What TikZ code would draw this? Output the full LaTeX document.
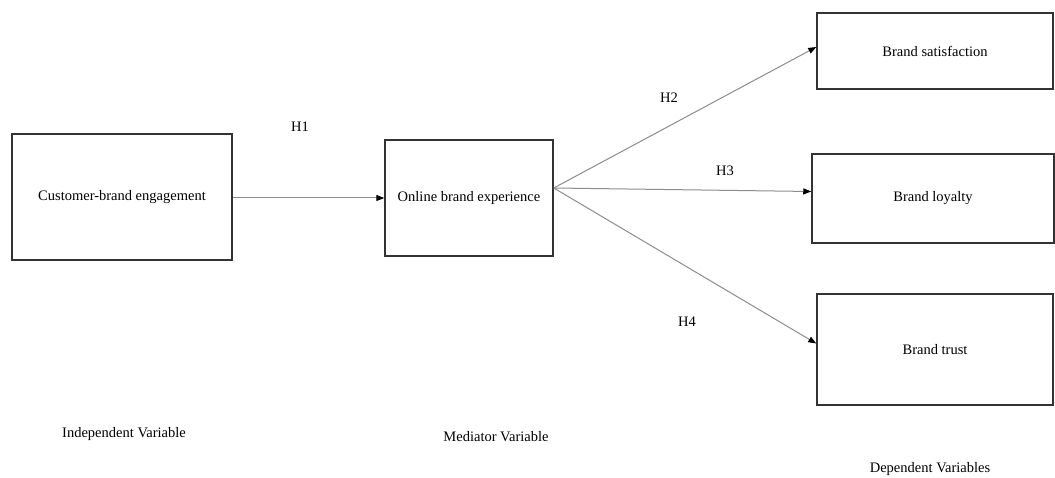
\documentclass[tikz,border=0pt]{standalone}
\usepackage{fontspec}
\setmainfont{Liberation Serif}
\usetikzlibrary{
  arrows.meta,
  positioning,
  calc
}

\begin{document}
\begin{tikzpicture}[
      x=1pt, y=-1pt,
      >={Triangle[length=8pt, width=6pt, color=black]},
      texto/.style={font=\fontsize{14.5}{17}\selectfont, inner sep=0pt},
      caixa/.style={draw=black!80, line width=1.5pt, inner sep=0pt, texto},
      seta/.style={->, line width=1pt, black!45}
  ]
      \useasboundingbox (0,0) rectangle (1055,478);

      % Variables
      \node[caixa, minimum width=220pt, minimum height=126pt] (cbe) at (122,197) {Customer-brand engagement};
      \node[caixa, minimum width=168pt, minimum height=116pt] (obe) at (469,198) {Online brand experience};
      \node[caixa, minimum width=236pt, minimum height=76pt] (sat) at (935,51) {Brand satisfaction};
      \node[caixa, minimum width=242pt, minimum height=89pt] (loy) at (933,198.5) {Brand loyalty};
      \node[caixa, minimum width=236pt, minimum height=111pt] (tru) at (935,349.5) {Brand trust};
      \coordinate (hub) at ([yshift=10pt]obe.east);

      % Hypotheses
      \draw[seta] (cbe.east |- 0,198) -- (obe.west);
      \draw[seta] (hub) -- ([yshift=4pt]sat.west);
      \draw[seta] (hub) -- ([yshift=7pt]loy.west);
      \draw[seta] (hub) -- ([yshift=6pt]tru.west);
      \node[texto] (h1) at (300,127) {H1};
      \node[texto] (h2) at (669,98) {H2};
      \node[texto] (h3) at (725,171) {H3};
      \node[texto] (h4) at (687,322) {H4};

      % Variable types
      \node[texto] (ind) at (124,434) {Independent Variable};
      \node[texto] (med) at (496,437) {Mediator Variable};
      \node[texto] (dep) at (930,469) {Dependent Variables};
  \end{tikzpicture}
\end{document}
